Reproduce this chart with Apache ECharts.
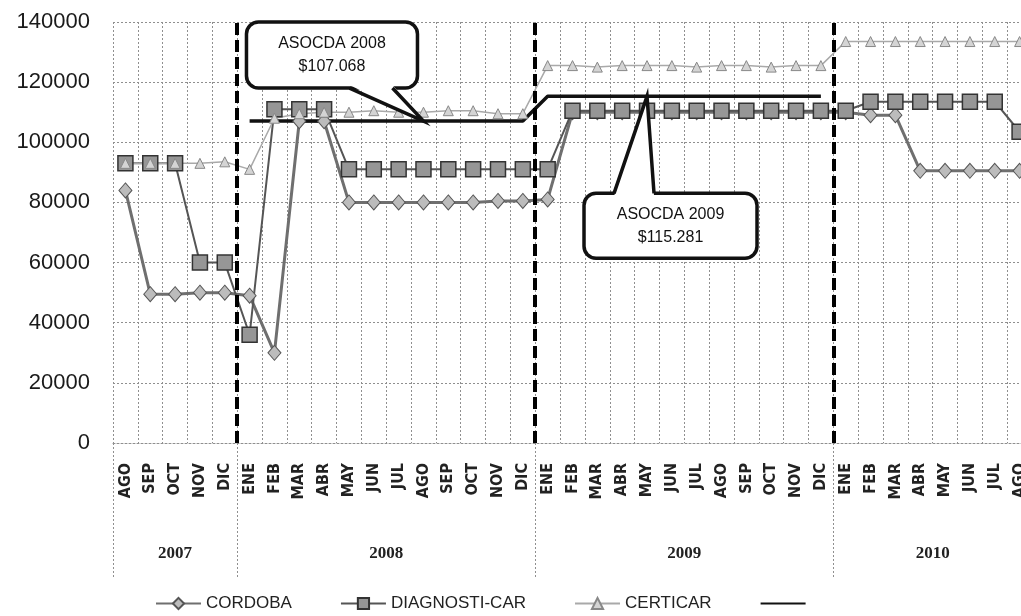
<!DOCTYPE html>
<html>
<head>
<meta charset="utf-8">
<title>ASOCDA</title>
<script src="https://cdn.jsdelivr.net/npm/echarts@6/dist/echarts.min.js"></script>
<style>
html, body { margin: 0; padding: 0; background: #fff; }
#grafico { width: 1021px; height: 616px; }
</style>
</head>
<body>
<div id="grafico"></div>
<script>
// eje de meses: AGO 2007 hasta AGO 2010 (el último queda cortado a la derecha)
var anios = ['2007', '2008', '2009', '2010'];
var mesesPorAnio = [
    ['AGO', 'SEP', 'OCT', 'NOV', 'DIC'],
    ['ENE', 'FEB', 'MAR', 'ABR', 'MAY', 'JUN', 'JUL', 'AGO', 'SEP', 'OCT', 'NOV', 'DIC'],
    ['ENE', 'FEB', 'MAR', 'ABR', 'MAY', 'JUN', 'JUL', 'AGO', 'SEP', 'OCT', 'NOV', 'DIC'],
    ['ENE', 'FEB', 'MAR', 'ABR', 'MAY', 'JUN', 'JUL', 'AGO']
];

var cordoba = [
    84000, 49500, 49500, 50000, 50000,
    49000, 30000, 107000, 107000, 80000, 80000, 80000, 80000, 80000, 80000, 80500, 80500,
    81000, 110000, 110000, 110000, 110000, 110000, 110000, 110000, 110000, 110000, 110000, 110000,
    110000, 109000, 109000, 90500, 90500, 90500, 90500, 90500
];
var diagnostiCar = [
    93000, 93000, 93000, 60000, 60000,
    36000, 111000, 111000, 111000, 91000, 91000, 91000, 91000, 91000, 91000, 91000, 91000,
    91000, 110500, 110500, 110500, 110500, 110500, 110500, 110500, 110500, 110500, 110500, 110500,
    110500, 113500, 113500, 113500, 113500, 113500, 113500, 103500
];
var certicar = [
    93000, 93000, 93000, 93000, 93500,
    91000, 108000, 109500, 110000, 110000, 110500, 110000, 110000, 110500, 110500, 109500, 109500,
    125500, 125500, 125000, 125500, 125500, 125500, 125000, 125500, 125500, 125000, 125500, 125500,
    133500, 133500, 133500, 133500, 133500, 133500, 133500, 133500
];
var asocda = [
    null, null, null, null, null,
    107068, 107068, 107068, 107068, 107068, 107068, 107068, 107068, 107068, 107068, 107068, 107068,
    115281, 115281, 115281, 115281, 115281, 115281, 115281, 115281, 115281, 115281, 115281, 115281,
    null, null, null, null, null, null, null, null
];

// textos de los globos: [título, valor, índice del mes donde apunta, valor en el eje]
var globos = [
    ['ASOCDA 2008', '$107.068', 12, 107068],
    ['ASOCDA 2009', '$115.281', 21, 115281]
];

var meses = [];
var inicios = [];
var centros = [];
for (var i = 0; i < mesesPorAnio.length; i++) {
    inicios.push(meses.length);
    centros.push(meses.length + mesesPorAnio[i].length / 2);
    meses = meses.concat(mesesPorAnio[i]);
}
var limites = inicios.slice(1);

var gris = '#8f8f8f';
var punteado = { color: gris, width: 1, type: [2, 2] };

var chart = echarts.init(document.getElementById('grafico'));

var option = {
    animation: false,
    backgroundColor: '#fff',
    grid: { left: 113, right: -11, top: 22, bottom: 173, outerBoundsMode: 'none' },
    legend: {
        left: 150,
        top: 590,
        itemWidth: 45,
        itemHeight: 14,
        itemGap: 48,
        data: ['CORDOBA', 'DIAGNOSTI-CAR', 'CERTICAR', { name: 'ASOCDA', itemStyle: { opacity: 0 } }],
        formatter: function (name) { return name === 'ASOCDA' ? '' : name; },
        textStyle: { fontSize: 17, color: '#222', fontFamily: 'Liberation Sans' }
    },
    xAxis: [
        {
            type: 'category',
            data: meses,
            axisLine: { lineStyle: punteado },
            axisTick: { interval: 0, length: 55, lineStyle: punteado },
            splitLine: { show: true, interval: 0, lineStyle: punteado },
            axisLabel: {
                interval: 0,
                rotate: 90,
                margin: 20,
                fontSize: 16,
                fontWeight: 'bold',
                color: '#222',
                fontFamily: 'Liberation Sans Narrow, DejaVu Sans Condensed, sans-serif'
            }
        },
        {
            type: 'value',
            min: 0,
            max: meses.length,
            position: 'bottom',
            axisLine: { show: false },
            splitLine: { show: false },
            axisTick: { show: true, length: 134, customValues: inicios, lineStyle: punteado },
            axisLabel: {
                margin: 102,
                customValues: centros,
                formatter: function (v) { return anios[centros.indexOf(v)]; },
                fontSize: 17,
                fontWeight: 'bold',
                color: '#222',
                fontFamily: 'Liberation Serif'
            }
        }
    ],
    yAxis: {
        type: 'value',
        min: 0,
        max: 140000,
        interval: 20000,
        axisLine: { show: false },
        axisTick: { show: false },
        splitLine: { lineStyle: punteado },
        axisLabel: {
            margin: 23,
            fontSize: 22,
            color: '#1a1a1a',
            fontFamily: 'Liberation Sans',
            formatter: function (v) { return String(v); }
        }
    },
    series: [
        {
            name: 'CORDOBA',
            type: 'line',
            data: cordoba,
            symbol: 'diamond',
            symbolSize: [13, 15],
            lineStyle: { color: '#6f6f6f', width: 3 },
            itemStyle: { color: '#bcbcbc', borderColor: '#555', borderWidth: 1 }
        },
        {
            name: 'DIAGNOSTI-CAR',
            type: 'line',
            data: diagnostiCar,
            symbol: 'rect',
            symbolSize: [15, 15],
            lineStyle: { color: '#555', width: 2 },
            itemStyle: { color: '#969696', borderColor: '#333', borderWidth: 1.5 }
        },
        {
            name: 'CERTICAR',
            type: 'line',
            data: certicar,
            symbol: 'triangle',
            symbolSize: [10, 10],
            lineStyle: { color: '#a9a9a9', width: 1.5 },
            itemStyle: { color: '#d4d4d4', borderColor: '#888', borderWidth: 1 }
        },
        {
            name: 'ASOCDA',
            type: 'line',
            data: asocda,
            symbol: 'none',
            lineStyle: { color: '#111', width: 3.5 },
            itemStyle: { color: '#111' }
        },
        {
            name: 'limites',
            type: 'line',
            xAxisIndex: 1,
            data: [[0, 0]],
            symbol: 'none',
            lineStyle: { opacity: 0 },
            markLine: {
                silent: true,
                symbol: 'none',
                label: { show: false },
                lineStyle: { color: '#000', width: 4, type: [12, 5] },
                data: limites.map(function (x) { return { xAxis: x }; })
            }
        }
    ]
};
chart.setOption(option);

// globos de texto: la punta se ubica sobre la línea ASOCDA
var cajas = [
    { dx: -177, dy: -99, w: 171, h: 66, b1: -74, b2: -31, arriba: false },
    { dx: -63, dy: 97, w: 173, h: 65, b1: -33, b2: 7, arriba: true }
];
var graficos = [];
globos.forEach(function (g, k) {
    var p = chart.convertToPixel({ xAxisIndex: 0, yAxisIndex: 0 }, [g[2], g[3]]);
    var c = cajas[k];
    var x0 = p[0] + c.dx, y0 = p[1] + c.dy;
    var by = c.arriba ? y0 : y0 + c.h;
    var adentro = c.arriba ? 3 : -3;
    graficos.push({
        type: 'rect',
        shape: { x: x0, y: y0, width: c.w, height: c.h, r: 12 },
        style: { fill: '#fff', stroke: '#111', lineWidth: 3.5 },
        z: 100
    });
    graficos.push({
        type: 'polygon',
        shape: { points: [[p[0] + c.b1, by + adentro], p, [p[0] + c.b2, by + adentro]] },
        style: { fill: '#fff' },
        z: 101
    });
    graficos.push({
        type: 'polyline',
        shape: { points: [[p[0] + c.b1, by], p, [p[0] + c.b2, by]] },
        style: { stroke: '#111', lineWidth: 3.5, fill: null },
        z: 102
    });
    graficos.push({
        type: 'text',
        x: x0 + c.w / 2,
        y: y0 + c.h / 2,
        style: {
            text: g[0] + '\n' + g[1],
            align: 'center',
            verticalAlign: 'middle',
            fontSize: 16,
            lineHeight: 23,
            fill: '#111',
            fontFamily: 'Liberation Sans'
        },
        z: 103
    });
});
chart.setOption({ graphic: graficos });
</script>
</body>
</html>
